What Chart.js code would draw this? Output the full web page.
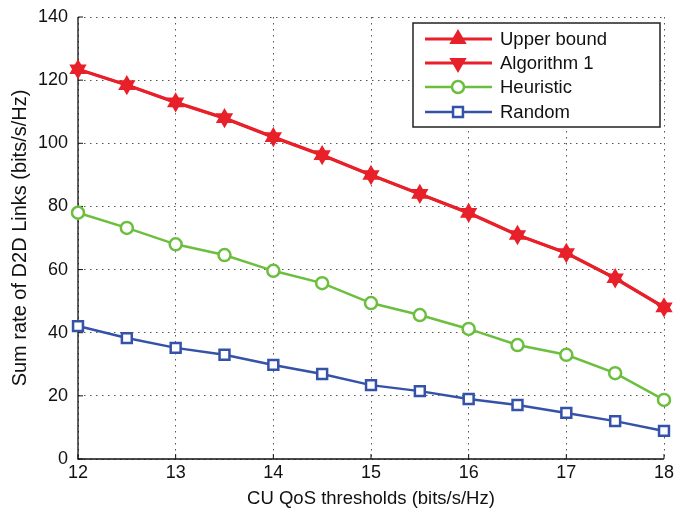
<!DOCTYPE html>
<html>
<head>
<meta charset="utf-8">
<script src="https://cdn.jsdelivr.net/npm/chart.js@4"></script>
<style>
html,body{margin:0;padding:0;background:#fff;}
#wrap{width:677px;height:517px;position:relative;}
</style>
</head>
<body>
<div id="wrap"><canvas id="c" width="677" height="517"></canvas></div>
<script>
const thresholds = [12, 12.5, 13, 13.5, 14, 14.5, 15, 15.5, 16, 16.5, 17, 17.5, 18];
const upperBound = [123.5, 118.5, 113, 108, 102, 96.3, 90, 84, 78, 71, 65.3, 57.3, 48.1];
const algorithm1 = [123.4, 118.4, 112.9, 107.9, 101.9, 96.2, 89.9, 83.9, 77.9, 70.9, 65.2, 57.2, 48.0];
const heuristic = [78, 73.2, 68, 64.6, 59.6, 55.7, 49.4, 45.6, 41.2, 36.1, 33, 27.2, 18.7];
const randomAlloc = [42.1, 38.3, 35.2, 33, 29.8, 26.9, 23.4, 21.5, 19, 17.1, 14.6, 12, 8.9];
const xTicks = [12, 13, 14, 15, 16, 17, 18];
const yTicks = [0, 20, 40, 60, 80, 100, 120, 140];
const seriesNames = ['Upper bound', 'Algorithm 1', 'Heuristic', 'Random'];

const RED = '#e8202a', GREEN = '#6cbf3e', BLUE = '#3452a8';
const FONT = 'Liberation Sans, Arial, sans-serif';

function pts(arr){ return thresholds.map((x,i)=>({x:x,y:arr[i]})); }

const styles = [
  {color:RED, lw:3, ps:'triangle', rot:0, r:8, fill:RED, bw:2},
  {color:RED, lw:3, ps:'triangle', rot:180, r:8, fill:RED, bw:2},
  {color:GREEN, lw:2.5, ps:'circle', rot:0, r:6, fill:'#fff', bw:2.5},
  {color:BLUE, lw:2.5, ps:'rect', rot:0, r:7, fill:'#fff', bw:2.5}
];
const dataArrays = [upperBound, algorithm1, heuristic, randomAlloc];

const datasets = dataArrays.map((arr,i)=>({
  label: seriesNames[i],
  data: pts(arr),
  borderColor: styles[i].color,
  backgroundColor: styles[i].fill,
  borderWidth: styles[i].lw,
  pointStyle: styles[i].ps,
  rotation: styles[i].rot,
  pointRadius: styles[i].r,
  pointBorderWidth: styles[i].bw,
  pointBorderColor: styles[i].color,
  pointBackgroundColor: styles[i].fill,
  tension: 0,
  clip: false
}));

const axesPlugin = {
  id: 'axesLines',
  beforeDatasetsDraw(chart){
    const ctx = chart.ctx, a = chart.chartArea;
    const xs = chart.scales.x, ys = chart.scales.y;
    ctx.save();
    ctx.strokeStyle = '#111';
    ctx.lineWidth = 1.3;
    ctx.beginPath();
    ctx.moveTo(a.left, a.top); ctx.lineTo(a.left, a.bottom); ctx.lineTo(a.right, a.bottom);
    ctx.stroke();
    ctx.lineWidth = 1;
    ctx.beginPath();
    xTicks.forEach(v=>{ const px = xs.getPixelForValue(v); ctx.moveTo(px, a.bottom); ctx.lineTo(px, a.bottom - 5); });
    yTicks.forEach(v=>{ const py = ys.getPixelForValue(v); ctx.moveTo(a.left, py); ctx.lineTo(a.left + 5, py); });
    ctx.stroke();
    ctx.restore();
  }
};

const legendPlugin = {
  id: 'customLegend',
  afterDraw(chart){
    const ctx = chart.ctx;
    ctx.save();
    const bx = 413, by = 23, bw = 247, bh = 104;
    ctx.fillStyle = '#fff';
    ctx.fillRect(bx, by, bw, bh);
    ctx.strokeStyle = '#222';
    ctx.lineWidth = 1.5;
    ctx.strokeRect(bx, by, bw, bh);
    const rows = [39, 63, 87, 112];
    ctx.font = '18.5px ' + FONT;
    ctx.textBaseline = 'middle';
    rows.forEach((ry,i)=>{
      const s = styles[i];
      ctx.strokeStyle = s.color;
      ctx.lineWidth = s.lw;
      ctx.beginPath(); ctx.moveTo(425, ry); ctx.lineTo(492, ry); ctx.stroke();
      ctx.fillStyle = s.fill; ctx.strokeStyle = s.color; ctx.lineWidth = s.bw;
      ctx.beginPath();
      Chart.helpers.drawPoint(ctx, {pointStyle:s.ps, rotation:s.rot, radius:s.r, borderWidth:s.bw}, 458, ry);
      ctx.fillStyle = '#111';
      ctx.fillText(seriesNames[i], 500, ry + 1);
    });
    ctx.restore();
  }
};

new Chart(document.getElementById('c'), {
  type: 'line',
  data: { datasets },
  options: {
    responsive: false,
    animation: false,
    layout: { padding: { top: 17, right: 13, left: 0, bottom: 0 } },
    plugins: { legend: { display: false }, tooltip: { enabled: false } },
    scales: {
      x: {
        type: 'linear', min: 12, max: 18,
        afterBuildTicks(scale){ scale.ticks = xTicks.map(v=>({value:v})); },
        afterFit(scale){ scale.height = 58; scale.paddingLeft = 0; scale.paddingRight = 0; },
        ticks: { color:'#111', font:{family:FONT, size:18}, padding: 3 },
        grid: { color:'#555', lineWidth:1, drawTicks:false },
        border: { display:false, dash:[1.5,4.5] },
        title: { display:true, text:'CU QoS thresholds (bits/s/Hz)', color:'#111', font:{family:FONT, size:18.5}, padding:{top:4, bottom:7} }
      },
      y: {
        type: 'linear', min: 0, max: 140,
        afterBuildTicks(scale){ scale.ticks = yTicks.map(v=>({value:v})); },
        afterFit(scale){ scale.width = 78; scale.paddingTop = 0; scale.paddingBottom = 0; },
        ticks: { color:'#111', font:{family:FONT, size:18}, padding: 10 },
        grid: { color:'#555', lineWidth:1, drawTicks:false },
        border: { display:false, dash:[1.5,4.5] },
        title: { display:true, text:'Sum rate of D2D Links (bits/s/Hz)', color:'#111', font:{family:FONT, size:20}, padding:{top:8, bottom:0} }
      }
    }
  },
  plugins: [axesPlugin, legendPlugin]
});
</script>
</body>
</html>
